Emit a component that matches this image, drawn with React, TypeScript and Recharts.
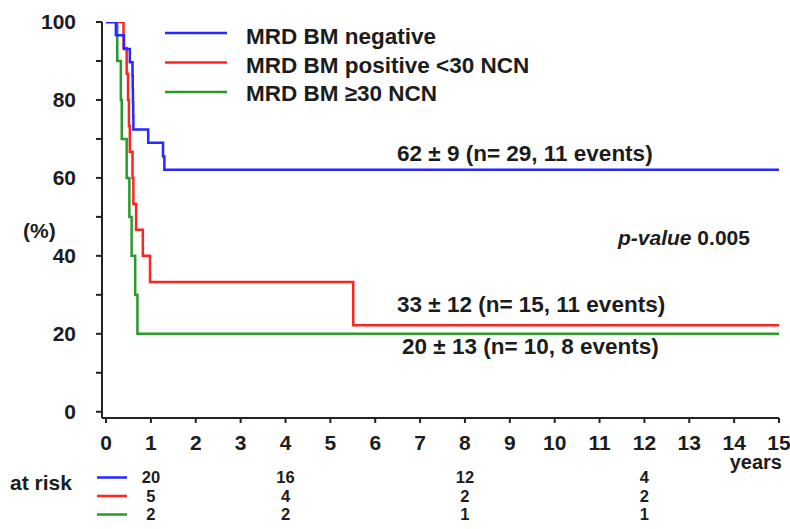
import React from 'react';
import { LineChart, Line, XAxis, YAxis } from 'recharts';

// Kaplan-Meier step data (time in years, survival %)
const blueTimes = [0, 0.22, 0.4, 0.53, 0.59, 0.595, 0.6, 0.605, 0.61, 0.94, 1.27, 1.3, 15];
const blueSurv = [100, 96.6, 93.1, 89.7, 86.2, 82.8, 79.3, 75.9, 72.4, 69.0, 65.5, 62.1, 62.1];

const redTimes = [0, 0.39, 0.46, 0.49, 0.51, 0.53, 0.59, 0.61, 0.67, 0.82, 0.98, 5.51, 15];
const redSurv = [100, 93.3, 86.7, 80, 73.3, 66.7, 60, 53.3, 46.7, 40, 33.3, 22.2, 22.2];

const greenTimes = [0, 0.25, 0.33, 0.35, 0.46, 0.52, 0.57, 0.65, 0.7, 15];
const greenSurv = [100, 90, 80, 70, 60, 50, 40, 30, 20, 20];

const xTicks = [0, 1, 2, 3, 4, 5, 6, 7, 8, 9, 10, 11, 12, 13, 14, 15];
const yTicks = [0, 10, 20, 30, 40, 50, 60, 70, 80, 90, 100];
const yLabelTicks = [0, 20, 40, 60, 80, 100];

const riskTimes = [1, 4, 8, 12];
const riskBlue = [20, 16, 12, 4];
const riskRed = [5, 4, 2, 2];
const riskGreen = [2, 2, 1, 1];

const seriesNames = ['MRD BM negative', 'MRD BM positive <30 NCN', 'MRD BM \u226530 NCN'];
const seriesColors = ['#2727ff', '#ff2424', '#2a9a2a'];
const annotations = [
  '62 \u00b1 9 (n= 29, 11 events)',
  '33 \u00b1 12 (n= 15, 11 events)',
  '20 \u00b1 13 (n= 10, 8 events)',
];

const toData = (ts: number[], ss: number[]) => ts.map((t, i) => ({ t, s: ss[i] }));
const blueData = toData(blueTimes, blueSurv);
const redData = toData(redTimes, redSurv);
const greenData = toData(greenTimes, greenSurv);
const riskAnchor = riskTimes.map((t) => ({ t, s: 0 }));

const FONT = '"Liberation Sans", Arial, Helvetica, sans-serif';
const INK = '#1c1c1c';
const AX = '#222';
const DOMAIN: [number, number] = [-0.09, 15];
const RISK_ROW = 18.5;

const riskMap = (vals: number[]) => (v: number) => {
  const i = riskTimes.indexOf(v);
  return i >= 0 ? String(vals[i]) : '';
};

export default function App() {
  const tickStyle = { fill: INK, fontSize: 21, fontWeight: 700, fontFamily: FONT };
  const riskStyle = { fill: INK, fontSize: 16.5, fontWeight: 700, fontFamily: FONT };
  const riskAxis = (id: string, vals: number[]) => (
    <XAxis
      key={id}
      xAxisId={id}
      dataKey="t"
      type="number"
      domain={DOMAIN}
      ticks={riskTimes}
      interval={0}
      height={RISK_ROW}
      tickSize={0}
      tickMargin={3}
      axisLine={false}
      tickLine={false}
      tick={riskStyle}
      tickFormatter={riskMap(vals)}
      allowDataOverflow
    />
  );
  const riskLine = (id: string) => (
    <Line
      key={'l' + id}
      xAxisId={id}
      data={riskAnchor}
      dataKey="s"
      stroke="transparent"
      strokeWidth={0}
      dot={false}
      activeDot={false}
      legendType="none"
      isAnimationActive={false}
    />
  );
  return (
    <div style={{ position: 'absolute', left: 0, top: 0, width: 790, height: 529, background: '#fff' }}>
      <LineChart width={790} height={529} margin={{ top: 22, right: 11, bottom: 5, left: 0 }}>
        <XAxis
          xAxisId="main"
          dataKey="t"
          type="number"
          domain={DOMAIN}
          ticks={xTicks}
          interval={0}
          height={50.5}
          tickSize={5}
          tickMargin={12}
          axisLine={{ stroke: AX, strokeWidth: 2 }}
          tickLine={{ stroke: AX, strokeWidth: 2 }}
          tick={tickStyle}
          allowDataOverflow
        />
        {riskAxis('r1', riskBlue)}
        {riskAxis('r2', riskRed)}
        {riskAxis('r3', riskGreen)}
        <YAxis
          type="number"
          domain={[-1.6, 100]}
          ticks={yTicks}
          interval={0}
          width={102}
          tickSize={6}
          tickMargin={20}
          axisLine={{ stroke: AX, strokeWidth: 2 }}
          tickLine={{ stroke: AX, strokeWidth: 2 }}
          tick={tickStyle}
          tickFormatter={(v: number) => (yLabelTicks.includes(v) ? String(v) : '')}
          allowDataOverflow
        />
        {riskLine('r1')}
        {riskLine('r2')}
        {riskLine('r3')}
        <Line xAxisId="main" data={greenData} dataKey="s" type="stepAfter" stroke={seriesColors[2]} strokeWidth={2.5} dot={false} isAnimationActive={false} />
        <Line xAxisId="main" data={redData} dataKey="s" type="stepAfter" stroke={seriesColors[1]} strokeWidth={2.5} dot={false} isAnimationActive={false} />
        <Line xAxisId="main" data={blueData} dataKey="s" type="stepAfter" stroke={seriesColors[0]} strokeWidth={2.5} dot={false} isAnimationActive={false} />
      </LineChart>
      <svg
        width={790}
        height={529}
        style={{ position: 'absolute', left: 0, top: 0, pointerEvents: 'none' }}
        fontFamily={FONT}
        fontWeight={700}
        fill={INK}
      >
        {/* legend */}
        {seriesNames.map((n, i) => (
          <g key={n}>
            <line x1={165} x2={227} y1={33 + i * 29.5} y2={33 + i * 29.5} stroke={seriesColors[i]} strokeWidth={2.5} />
            <text x={246} y={44 + i * 28.7} fontSize={22.5}>{n}</text>
          </g>
        ))}
        {/* annotations */}
        <text x={397} y={161} fontSize={22.5}>{annotations[0]}</text>
        <text x={397} y={312} fontSize={22.5}>{annotations[1]}</text>
        <text x={402} y={354} fontSize={22.5}>{annotations[2]}</text>
        <text x={618} y={245} fontSize={21}>
          <tspan fontStyle="italic">p-value</tspan> 0.005
        </text>
        {/* axis labels */}
        <text x={23} y={238} fontSize={21}>(%)</text>
        <text x={782} y={469} fontSize={20} textAnchor="end">years</text>
        <text x={10} y={490} fontSize={21}>at risk</text>
        {seriesColors.map((c, i) => (
          <line key={c} x1={97} x2={127} y1={477.5 + i * RISK_ROW} y2={477.5 + i * RISK_ROW} stroke={c} strokeWidth={2.5} />
        ))}
      </svg>
    </div>
  );
}
